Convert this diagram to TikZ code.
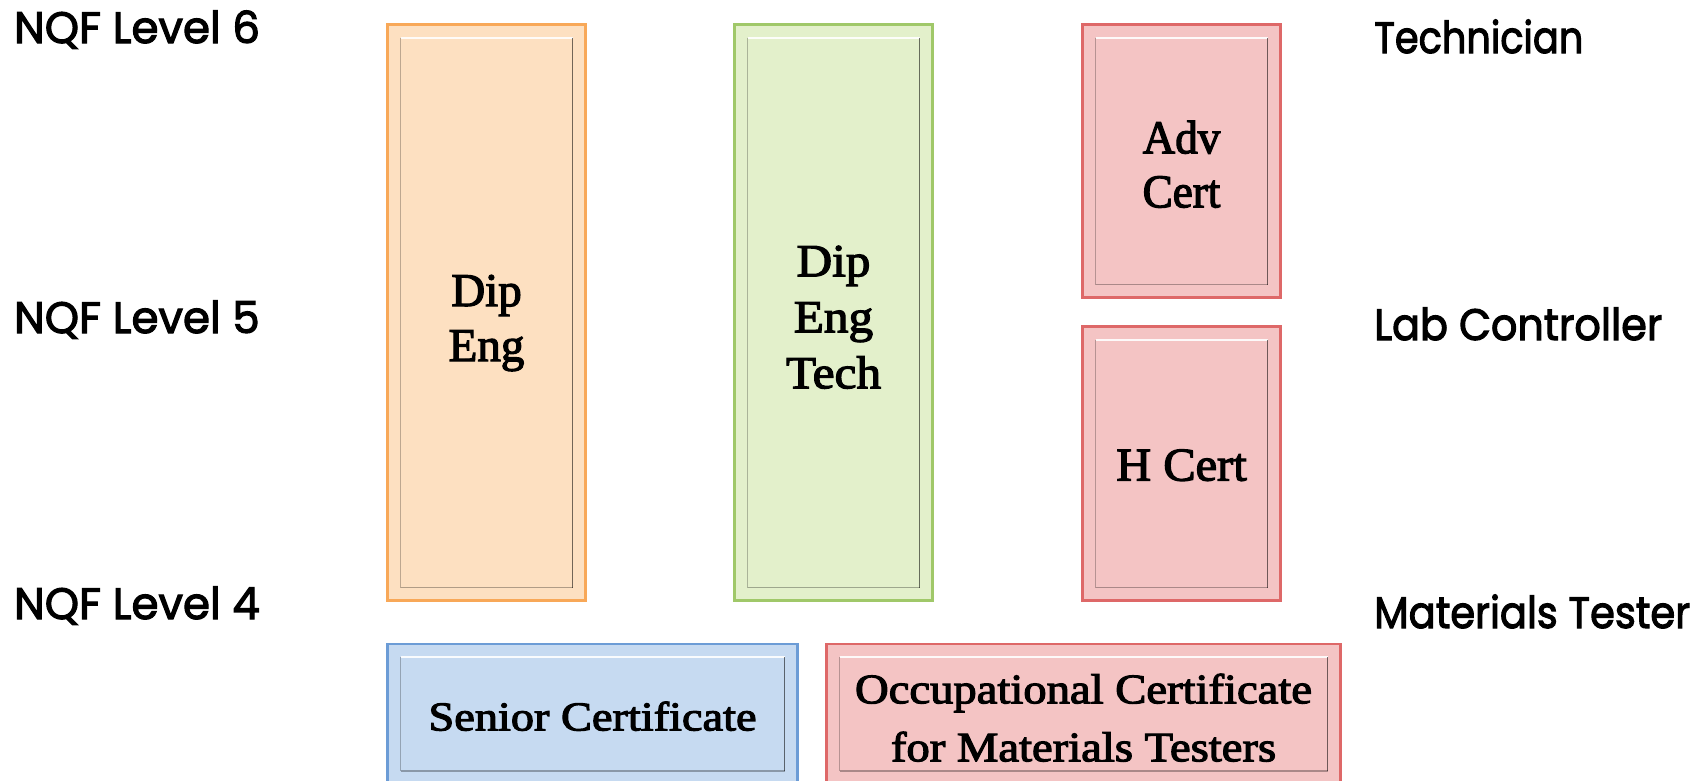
\documentclass[tikz,border=0pt]{standalone}
\usepackage{fontspec}
\usepackage{graphicx}
\setmainfont[FakeBold=2.6]{Liberation Serif}
\newfontfamily\labfont[FakeBold=2.6]{Poppins}
\usetikzlibrary{calc}
\definecolor{ofill}{RGB}{253,224,193}
\definecolor{oline}{RGB}{248,168,88}
\definecolor{gfill}{RGB}{227,240,203}
\definecolor{gline}{RGB}{160,200,105}
\definecolor{rfill}{RGB}{244,196,196}
\definecolor{rline}{RGB}{222,104,104}
\definecolor{bfill}{RGB}{198,218,241}
\definecolor{bline}{RGB}{108,156,214}
\newcommand{\xl}[1]{\scalebox{\curxs}[1]{#1}}
\tikzset{
  bevel/.style={path picture={
    \coordinate (bnw) at ([shift={(13pt,-13pt)}]path picture bounding box.north west);
    \coordinate (bne) at ([shift={(-13pt,-13pt)}]path picture bounding box.north east);
    \coordinate (bsw) at ([shift={(13pt,13pt)}]path picture bounding box.south west);
    \coordinate (bse) at ([shift={(-13pt,13pt)}]path picture bounding box.south east);
    \draw[white, opacity=.9, line width=2pt] (bnw) -- (bne);
    \draw[black, opacity=.25, line width=1.6pt] (bnw) -- (bsw);
    \draw[black, opacity=.3, line width=1.8pt] (bsw) -- (bse);
    \draw[black, opacity=.55, line width=1.8pt] (bne) -- (bse);
  }},
  qbox/.style n args={2}{fill=#1, draw=#2, line width=2.8pt, inner sep=0pt, outer sep=0pt, bevel},
  qtxt/.style={align=center, text depth=0pt, inner sep=0pt},
  lvl/.style={font=\labfont\fontsize{44}{44}\selectfont, inner sep=0pt, anchor=base west},
}
\begin{document}
\begin{tikzpicture}[x=1pt,y=-1pt]
\useasboundingbox (0,0) rectangle (1706,780);
% boxes
\node[qbox={ofill}{oline}, minimum width=198pt, minimum height=576pt] (dipeng) at (486.5,312.5) {};
\node[qbox={gfill}{gline}, minimum width=198pt, minimum height=576pt] (dipengtech) at (833.5,312.5) {};
\node[qbox={rfill}{rline}, minimum width=198pt, minimum height=273pt] (advcert) at (1181.5,161) {};
\node[qbox={rfill}{rline}, minimum width=198pt, minimum height=274pt] (hcert) at (1181.5,463.5) {};
\node[qbox={bfill}{bline}, minimum width=410pt, minimum height=140pt] (senior) at (592.5,714) {};
\node[qbox={rfill}{rline}, minimum width=514pt, minimum height=140pt] (occ) at (1083.5,714) {};
% box texts
\node[qtxt, font={\fontsize{47}{55}\selectfont\def\curxs{1.0}}] (dipengT) at (486.5,318) {\xl{Dip}\\\xl{Eng}};
\node[qtxt, font={\fontsize{46}{56}\selectfont\def\curxs{1.07}}] (dipengtechT) at (833.5,317) {\xl{Dip}\\\xl{Eng}\\\xl{Tech}};
\node[qtxt, font={\fontsize{47}{54}\selectfont\def\curxs{0.96}}] (advcertT) at (1181.5,164) {\xl{Adv}\\\xl{Cert}};
\node[qtxt, font={\fontsize{47}{54}\selectfont\def\curxs{1.03}}] (hcertT) at (1181.5,465) {\xl{H Cert}};
\node[qtxt, font={\fontsize{41}{40}\selectfont\def\curxs{1.13}}] (seniorT) at (592.5,716) {\xl{Senior Certificate}};
\node[qtxt, font={\fontsize{42}{58}\selectfont\def\curxs{1.11}}] (occT) at (1083.5,717.5) {\xl{Occupational Certificate}\\\xl{for Materials Testers}};
% level labels
\node[lvl] (nqf6) at (14,43) {\scalebox{0.99}[1]{NQF Level 6}};
\node[lvl] (nqf5) at (14,333) {\scalebox{0.99}[1]{NQF Level 5}};
\node[lvl] (nqf4) at (14,619) {\scalebox{0.99}[1]{NQF Level 4}};
\node[lvl] (tech) at (1374,53) {\scalebox{0.87}[1]{Technician}};
\node[lvl] (labc) at (1374,340) {\scalebox{0.94}[1]{Lab Controller}};
\node[lvl] (mtest) at (1374,628) {\scalebox{0.91}[1]{Materials Tester}};
\end{tikzpicture}
\end{document}
